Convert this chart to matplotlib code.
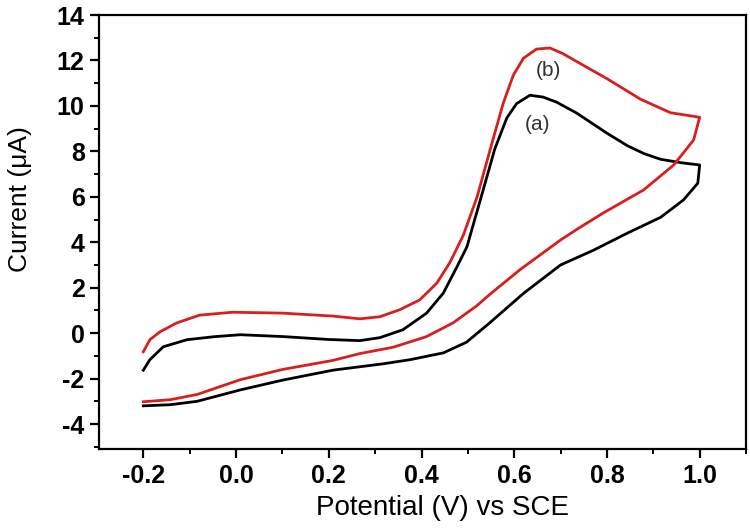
import matplotlib
matplotlib.use("Agg")
import matplotlib.pyplot as plt
from matplotlib.ticker import MultipleLocator

plt.rcParams['font.family'] = ['Liberation Sans', 'DejaVu Sans']

# (a) black curve: forward scan (-0.2 -> 1.0) then reverse scan back to -0.2
potential_a = [-0.2, -0.186, -0.157, -0.106, -0.049, 0.009, 0.1, 0.2, 0.267, 0.31,
               0.36, 0.411, 0.447, 0.476, 0.498, 0.533, 0.558, 0.584, 0.605, 0.634,
               0.662, 0.691, 0.735, 0.80, 0.844, 0.88, 0.916, 0.96, 1.0,
               0.996, 0.965, 0.916, 0.844, 0.771, 0.70, 0.62, 0.547, 0.497, 0.447,
               0.375, 0.317, 0.209, 0.10, 0.009, -0.084, -0.142, -0.2]
current_a = [-1.63, -1.17, -0.6, -0.29, -0.16, -0.07, -0.15, -0.28, -0.33, -0.2,
             0.15, 0.88, 1.76, 2.9, 3.8, 6.3, 8.1, 9.47, 10.1, 10.47,
             10.39, 10.17, 9.68, 8.8, 8.25, 7.9, 7.65, 7.5, 7.4,
             6.6, 5.86, 5.1, 4.4, 3.65, 3.0, 1.75, 0.45, -0.4, -0.87,
             -1.17, -1.35, -1.63, -2.07, -2.5, -3.0, -3.15, -3.2]

# (b) red curve
potential_b = [-0.2, -0.186, -0.164, -0.128, -0.079, -0.008, 0.10, 0.209, 0.267, 0.31,
               0.353, 0.396, 0.433, 0.461, 0.49, 0.52, 0.547, 0.576, 0.598, 0.62,
               0.648, 0.677, 0.705, 0.748, 0.80, 0.84, 0.872, 0.937, 1.0,
               0.987, 0.944, 0.879, 0.793, 0.743, 0.70, 0.613, 0.547, 0.519, 0.468,
               0.41, 0.339, 0.267, 0.209, 0.10, 0.009, -0.084, -0.142, -0.2]
current_b = [-0.82, -0.29, 0.06, 0.45, 0.79, 0.92, 0.88, 0.75, 0.63, 0.72,
             1.03, 1.46, 2.2, 3.1, 4.3, 6.0, 8.0, 10.1, 11.35, 12.1,
             12.5, 12.55, 12.3, 11.8, 11.2, 10.7, 10.3, 9.7, 9.5,
             8.5, 7.4, 6.3, 5.3, 4.67, 4.1, 2.8, 1.7, 1.2, 0.45,
             -0.16, -0.62, -0.9, -1.2, -1.6, -2.05, -2.7, -2.93, -3.02]

fig = plt.figure(figsize=(7.5, 5.29), dpi=100)
ax = fig.add_axes([0.1324, 0.1512, 0.8623, 0.8204])

ax.plot(potential_a, current_a, color='black', lw=2.0, solid_joinstyle='round')
ax.plot(potential_b, current_b, color='#d81e1e', lw=2.0, solid_joinstyle='round')

ax.text(0.673, 11.57, '(b)', fontsize=15, color='#333333', ha='center', va='center')
ax.text(0.651, 9.16, '(a)', fontsize=15, color='#333333', ha='center', va='center')

ax.set_xlim(-0.295, 1.1)
ax.set_ylim(-5.1, 14)
ax.xaxis.set_minor_locator(MultipleLocator(0.1))
ax.yaxis.set_minor_locator(MultipleLocator(1))
ax.set_xticks([-0.2, 0.0, 0.2, 0.4, 0.6, 0.8, 1.0])
ax.set_xticklabels(['-0.2', '0.0', '0.2', '0.4', '0.6', '0.8', '1.0'])
ax.set_yticks([-4, -2, 0, 2, 4, 6, 8, 10, 12, 14])
ax.set_yticklabels(['-4', '-2', '0', '2', '4', '6', '8', '10', '12', '14'])

for s in ax.spines.values():
    s.set_linewidth(1.6)
ax.tick_params(which='major', direction='out', length=6.5, width=1.6, pad=4,
               labelsize=18)
ax.tick_params(which='minor', direction='out', length=3.5, width=1.4)
for lab in ax.get_xticklabels() + ax.get_yticklabels():
    lab.set_fontweight('bold')

ax.set_xlabel('Potential (V) vs SCE', fontsize=20)
ax.xaxis.set_label_coords(0.53, -0.107)
ax.set_ylabel('Current (μA)', fontsize=19)
ax.yaxis.set_label_coords(-0.104, 0.575)

plt.savefig('out.png', dpi=100)
